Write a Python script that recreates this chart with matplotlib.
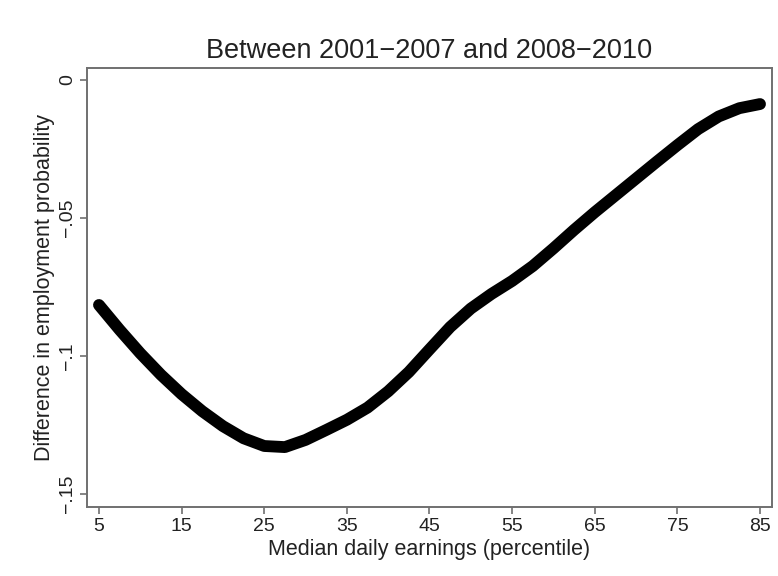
import numpy as np
import matplotlib.pyplot as plt

# percentile of median daily earnings vs difference in employment probability
pctile = [5, 7.5, 10, 12.5, 15, 17.5, 20, 22.5, 25, 27.5, 30, 32.5, 35, 37.5,
          40, 42.5, 45, 47.5, 50, 52.5, 55, 57.5, 60, 62.5, 65, 67.5, 70,
          72.5, 75, 77.5, 80, 82.5, 85]
diff = [-0.0815, -0.0905, -0.0990, -0.1068, -0.1138, -0.1200, -0.1254, -0.1298,
        -0.1326, -0.1330, -0.1304, -0.1268, -0.1231, -0.1187, -0.1128, -0.1058,
        -0.0976, -0.0895, -0.0828, -0.0775, -0.0728, -0.0674, -0.0610, -0.0543,
        -0.0479, -0.0418, -0.0357, -0.0296, -0.0236, -0.0178, -0.0132, -0.0102,
        -0.0087]

xticks = [5, 15, 25, 35, 45, 55, 65, 75, 85]
yticks = [0, -0.05, -0.1, -0.15]
ylabels = ['0', '\u2212.05', '\u2212.1', '\u2212.15']

plt.rcParams['font.family'] = ['Liberation Sans', 'DejaVu Sans']

fig = plt.figure(figsize=(7.78, 5.76), dpi=100)
ax = fig.add_axes([0.1118, 0.1198, 0.8805, 0.7621])

ax.plot(pctile, diff, color='black', lw=8.5, solid_capstyle='round',
        solid_joinstyle='round')

ax.set_xlim(3.55, 86.45)
ax.set_ylim(-0.1547, 0.00435)
ax.set_xticks(xticks)
ax.set_xticklabels([str(t) for t in xticks])
ax.set_yticks(yticks)
ax.set_yticklabels(ylabels, rotation=90, va='center')

for s in ax.spines.values():
    s.set_color('#707070')
    s.set_linewidth(1.4)
ax.tick_params(direction='out', length=5, width=1.2, color='#707070',
               labelsize=14, labelcolor='#222222', pad=3)

ax.set_title('Between 2001\u22122007 and 2008\u22122010', fontsize=19.5,
             color='#222222', pad=7)
ax.set_xlabel('Median daily earnings (percentile)', fontsize=15.5,
              color='#222222', labelpad=3)
ax.set_ylabel('Difference in employment probability', fontsize=15.5,
              color='#222222', labelpad=3)

fig.savefig('out.png', dpi=100)
